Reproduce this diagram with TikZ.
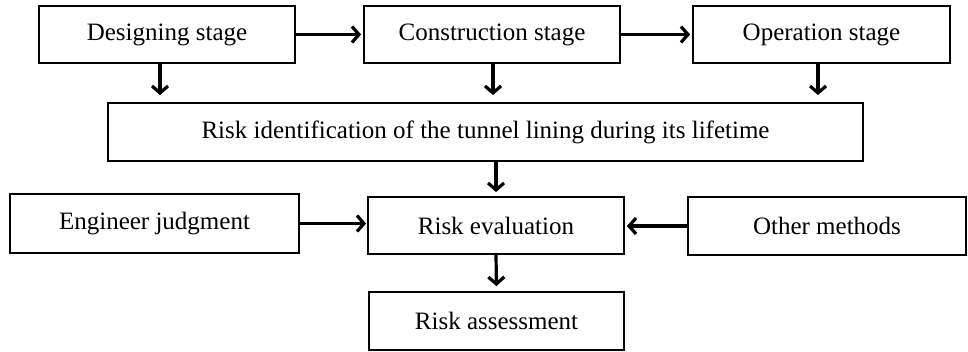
\documentclass[tikz,border=0pt]{standalone}
\usepackage{fontspec}
\setmainfont{Liberation Serif}
\usepackage{tikz}
\usetikzlibrary{arrows.meta}

\begin{document}
\begin{tikzpicture}[x=1pt, y=-1pt,
		stagebox/.style={draw, line width=1.8pt, inner sep=0pt, font=\fontsize{25}{29}\selectfont},
		flow/.style={line width=3.2pt, -{Straight Barb[length=7pt, width=16pt, line width=3.2pt]}}]
		\useasboundingbox (0,0) rectangle (968,352);

		% Lifetime stages
		\node[stagebox, minimum width=256pt, minimum height=57pt] (designing) at (167,34.5) {Designing stage};
		\node[stagebox, minimum width=256pt, minimum height=57pt] (construction) at (492,34.5) {Construction stage};
		\node[stagebox, minimum width=257pt, minimum height=57pt] (operation) at (821.5,34.5) {Operation stage};

		% Identification
		\node[stagebox, minimum width=755pt, minimum height=58pt] (riskid) at (485.5,132) {Risk identification of the tunnel lining during its lifetime};

		% Evaluation row
		\node[stagebox, minimum width=289pt, minimum height=59pt] (engineer) at (154.5,223.5) {Engineer judgment};
		\node[stagebox, minimum width=256pt, minimum height=57pt] (evaluation) at (496,225.5) {Risk evaluation};
		\node[stagebox, minimum width=278pt, minimum height=58pt] (othermethods) at (827,226) {Other methods};

		% Assessment
		\node[stagebox, minimum width=255pt, minimum height=58pt] (assessment) at (496.5,321) {Risk assessment};

		% Stage arrows
		\draw[flow, shorten >=2pt] (designing) -- (construction);
		\draw[flow, shorten >=2pt] (construction) -- (operation);
		\draw[flow, shorten >=7pt] ([xshift=-7pt]designing.south) -- ([xshift=-7pt]designing.south |- riskid.north);
		\draw[flow, shorten >=7pt] ([xshift=1pt]construction.south) -- ([xshift=1pt]construction.south |- riskid.north);
		\draw[flow, shorten >=7pt] ([xshift=-3.5pt]operation.south) -- ([xshift=-3.5pt]operation.south |- riskid.north);

		% Evaluation arrows
		\draw[flow, shorten >=4pt] (riskid.south -| evaluation) -- (evaluation.north);
		\draw[flow, shorten >=1pt] (engineer.east) -- (engineer.east -| evaluation.west);
		\draw[flow, shorten >=2pt] (othermethods.west) -- (othermethods.west -| evaluation.east);
		\draw[flow, shorten >=5pt] (evaluation.south) -- (assessment.north);
	\end{tikzpicture}
\end{document}
